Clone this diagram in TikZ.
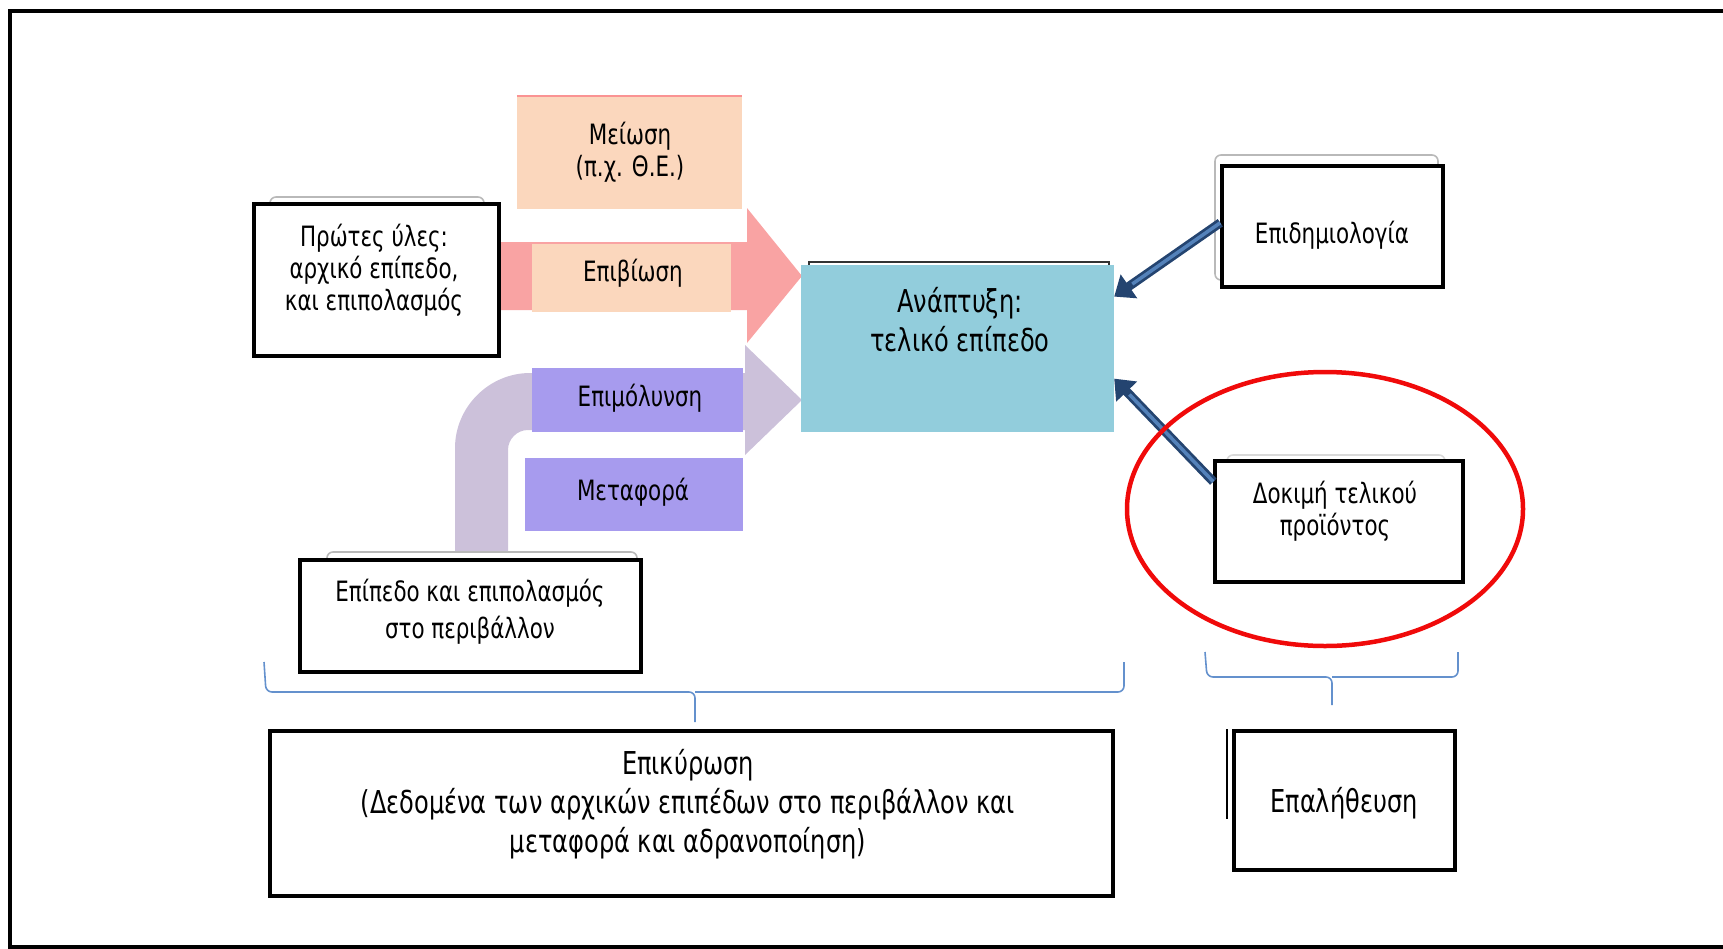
\documentclass[tikz,border=0pt]{standalone}
\usepackage{fontspec}
\setmainfont{DejaVu Sans Condensed}[FakeStretch=0.85]
\usetikzlibrary{fit,calc,arrows.meta}
\definecolor{peach}{RGB}{251,215,189}
\definecolor{tealbox}{RGB}{146,205,220}
\definecolor{purpbox}{RGB}{167,155,238}
\definecolor{lavarrow}{RGB}{204,193,218}
\definecolor{pinkarrow}{RGB}{249,163,163}
\definecolor{bluedark}{RGB}{36,68,112}
\definecolor{bluemid}{RGB}{84,130,186}
\definecolor{bracecol}{RGB}{100,145,205}
\definecolor{ringred}{RGB}{240,10,10}
\begin{document}
\begin{tikzpicture}[x=1pt,y=-1pt,
  whitebox/.style={draw=black,line width=3.5pt,fill=white,inner sep=0pt},
  peachbox/.style={fill=peach,inner sep=0pt},
  purplebox/.style={fill=purpbox,inner sep=0pt},
  tealnode/.style={fill=tealbox,inner sep=0pt},
  backbox/.style={draw=gray!55,line width=1.6pt,fill=white,rounded corners=6pt,inner sep=0pt},
  lbl/.style={align=center,inner sep=0pt,font=\fontsize{28}{32}\selectfont},
  biglbl/.style={align=center,inner sep=0pt,font=\fontsize{31.5}{39}\selectfont},
  bluearr/.style={line width=9pt,draw=bluedark,-{Triangle[length=18pt,width=28pt]}},
  bluein/.style={line width=3.5pt,draw=bluemid,shorten >=22pt},
  bracepath/.style={draw=bracecol,line width=1.6pt,rounded corners=6pt},
  frame/.style={draw=black,line width=3.5pt}]
\useasboundingbox (0,0) rectangle (1723,948);
\draw[frame] (10,11) rectangle (1780,947);

% big block arrows
\fill[pinkarrow] (480,242) -- (747,242) -- (747,208) -- (802,276) -- (747,343) -- (747,310) -- (480,310) -- cycle;
\fill[lavarrow] (455,556) -- (455,448) .. controls (455,407) and (489,373) .. (530,373)
  -- (745,373) -- (745,345) -- (802,400) -- (745,455) -- (745,430) -- (528,430)
  .. controls (517,430) and (508,439) .. (508,450) -- (508,556) -- cycle;

% coloured boxes
\node[peachbox, fit={(517,96) (742,209)}] (meiosi) {};
\draw[draw=pinkarrow!90!red,line width=2pt] (meiosi.north west) -- (meiosi.north east);
\node[peachbox, fit={(532,244) (731,312)}] (epiviosi) {};
\node[purplebox, fit={(532,368) (743,432)}] (epimol) {};
\node[purplebox, fit={(525,458) (743,531)}] (metafora) {};
\node[draw=black!80,line width=2pt,inner sep=0pt, fit={(809,262) (1109,400)}] (anaback) {};
\node[tealnode, fit={(801,265) (1114,432)}] (ana) {};

% white boxes with shadows
\node[backbox, fit={(270,197) (484,340)}] (rawback) {};
\node[whitebox, fit={(254,204) (499,356)}] (raw) {};
\node[backbox, fit={(1215,155) (1438,280)}] (epidback) {};
\node[whitebox, fit={(1222,166) (1443,287)}] (epid) {};
\node[backbox, draw=gray!30, fit={(1227,455) (1445,560)}] (dokback) {};
\node[whitebox, fit={(1215,461) (1463,582)}] (dok) {};
\node[backbox, fit={(327,552) (637,650)}] (epipback) {};
\node[whitebox, fit={(300,560) (641,672)}] (epip) {};
\node[whitebox, fit={(270,731) (1113,896)}] (epik) {};
\node[whitebox, fit={(1234,731) (1455,870)}] (epal) {};
\coordinate (epalA) at (1227,729);
\coordinate (epalB) at (1227,819);
\draw[line width=1.5pt] (epalA) -- (epalB);

% labels
\node[lbl] (meiosiT) at (630,152) {Μείωση\\(π.χ. Θ.Ε.)};
\node[lbl] (epiviosiT) at (633,273) {Επιβίωση};
\node[lbl] (rawT) at (374,270) {Πρώτες ύλες:\\αρχικό επίπεδο,\\και επιπολασμός};
\node[lbl] (epimolT) at (640,398) {Επιμόλυνση};
\node[lbl] (metaforaT) at (633,492) {Μεταφορά};
\node[biglbl] (anaT) at (960,320) {Ανάπτυξη:\\τελικό επίπεδο};
\node[lbl] (epidT) at (1332,235) {Επιδημιολογία};
\node[lbl] (dokT) at (1335,511) {Δοκιμή τελικού\\προϊόντος};
\node[lbl,font=\fontsize{28}{37}\selectfont] (epipT) at (470,612) {Επίπεδο και επιπολασμός\\στο περιβάλλον};
\node[biglbl] (epikT) at (688,804) {Επικύρωση\\(Δεδομένα των αρχικών επιπέδων στο περιβάλλον και\\μεταφορά και αδρανοποίηση)};
\node[biglbl] (epalT) at (1344,803) {Επαλήθευση};

% blue arrows
\coordinate (e1s) at ($(epid.north west)!0.47!(epid.south west)$);
\coordinate (e1e) at ($(ana.north east)!0.19!(ana.south east)$);
\coordinate (e2s) at ($(dok.north west)!0.18!(dok.south west)$);
\coordinate (e2e) at ($(ana.north east)!0.68!(ana.south east)$);
\draw[bluearr] (e1s) -- (e1e);
\draw[bluein] (e1s) -- (e1e);
\draw[bluearr] (e2s) -- (e2e);
\draw[bluein] (e2s) -- (e2e);

% braces
\draw[bracepath] (264,662) -- (266,692) -- (695,692) -- (695,722);
\draw[bracepath] (695,692) -- (1124,692) -- (1124,662);
\draw[bracepath] (1205,652) -- (1207,677) -- (1332,677) -- (1332,705);
\draw[bracepath] (1332,677) -- (1458,677) -- (1458,652);

% red ring
\draw[draw=ringred,line width=4.5pt] (1325,509) ellipse [x radius=198, y radius=137];
\end{tikzpicture}
\end{document}
